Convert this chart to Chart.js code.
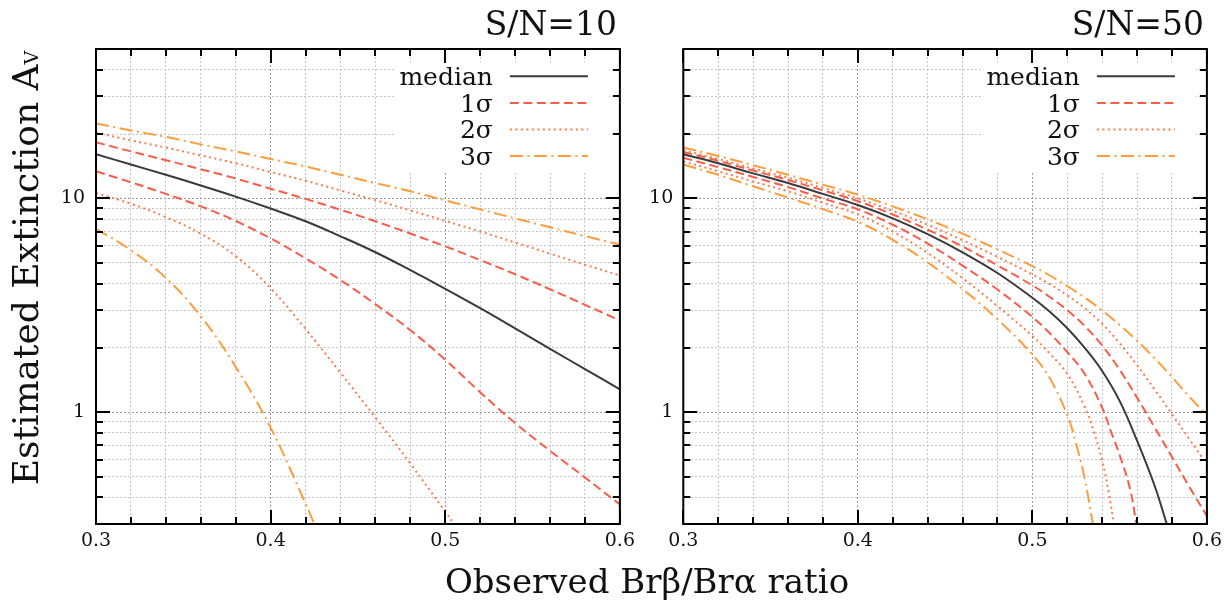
<!DOCTYPE html>
<html lang="en">
<head>
<meta charset="UTF-8">
<title>Estimated extinction vs Brβ/Brα ratio</title>
<script src="https://cdn.jsdelivr.net/npm/chart.js@4.4.0/dist/chart.umd.min.js"></script>
<style>
  body { margin: 0; background: #fff; }
  .wrap { position: relative; width: 1228px; height: 603px; font-family: 'DejaVu Serif', serif; color: #111; }
  .panel { position: absolute; top: 0; height: 603px; }
  #p10 { left: 0; width: 641px; }
  #p50 { left: 640px; width: 588px; }
  .xtitle { position: absolute; left: 647px; top: 564px; transform: translateX(-50%); font-size: 34px; white-space: nowrap; line-height: 1; }
</style>
</head>
<body>
<div class="wrap">
  <div class="panel" id="p10"><canvas id="c10"></canvas></div>
  <div class="panel" id="p50"><canvas id="c50"></canvas></div>
  <div class="xtitle">Observed Brβ/Brα ratio</div>
</div>
<script>
// axes
const xGridVals = [0.30, 0.32, 0.34, 0.36, 0.38, 0.40, 0.42, 0.44, 0.46, 0.48, 0.50, 0.52, 0.54, 0.56, 0.58, 0.60];
const xTickLabels = ['0.3', '0.4', '0.5', '0.6'];
const yGridVals = [0.3, 0.4, 0.5, 0.6, 0.7, 0.8, 0.9, 1, 2, 3, 4, 5, 6, 7, 8, 9, 10, 20, 30, 40, 50];
const yTickLabels = ['1', '10'];
const legendLabels = ['median', '1σ', '2σ', '3σ'];

// S/N = 10
const xs = [0.30, 0.32, 0.34, 0.36, 0.38, 0.40, 0.42, 0.44, 0.46, 0.48, 0.50, 0.52, 0.54, 0.56, 0.58, 0.60];
const sn10Median = [16.1, 14.4, 12.9, 11.5, 10.2, 8.97, 7.82, 6.65, 5.6, 4.62, 3.78, 3.07, 2.47, 1.98, 1.59, 1.28];
const sn10Up1 = [18.3, 16.6, 15.1, 13.7, 12.4, 11.1, 9.95, 8.85, 7.82, 6.85, 5.97, 5.15, 4.42, 3.76, 3.18, 2.69];
const sn10Up2 = [20.3, 18.7, 17.3, 15.9, 14.6, 13.3, 12.1, 10.9, 9.82, 8.79, 7.85, 7.0, 6.22, 5.52, 4.90, 4.36];
const sn10Up3 = [22.4, 20.8, 19.4, 17.9, 16.6, 15.3, 14.1, 12.9, 11.8, 10.8, 9.79, 8.89, 8.07, 7.33, 6.67, 6.08];
const sn10Lo1 = [13.4, 11.9, 10.5, 9.18, 7.85, 6.5, 5.25, 4.15, 3.2, 2.42, 1.76, 1.24, 0.89, 0.66, 0.495, 0.37];
const sn10Lo2X = [0.30, 0.32, 0.34, 0.36, 0.38, 0.40, 0.42, 0.44, 0.46, 0.48, 0.50, 0.505];
const sn10Lo2 = [10.6, 9.44, 8.18, 6.84, 5.37, 3.80, 2.45, 1.53, 0.944, 0.575, 0.343, 0.3];
const sn10Lo3X = [0.30, 0.32, 0.34, 0.36, 0.38, 0.40, 0.42, 0.425];
const sn10Lo3 = [7.21, 5.73, 4.25, 2.81, 1.63, 0.847, 0.374, 0.3];

// S/N = 50
const xsFine = [0.30, 0.32, 0.34, 0.36, 0.38, 0.40, 0.42, 0.44, 0.46, 0.48, 0.50, 0.51, 0.52, 0.53, 0.54, 0.55, 0.56, 0.57, 0.58, 0.59, 0.60];
const sn50Up1 = [16.5, 15.0, 13.5, 12.2, 10.9, 9.71, 8.41, 7.14, 5.96, 4.86, 3.92, 3.46, 3.0, 2.53, 2.05, 1.58, 1.17, 0.851, 0.617, 0.447, 0.327];
const sn50Up2 = [16.8, 15.3, 13.8, 12.5, 11.2, 10.0, 8.75, 7.53, 6.38, 5.33, 4.41, 3.97, 3.52, 3.07, 2.59, 2.10, 1.66, 1.28, 0.979, 0.748, 0.569];
const sn50Up3 = [17.3, 15.8, 14.3, 12.9, 11.6, 10.4, 9.18, 7.98, 6.84, 5.78, 4.82, 4.36, 3.89, 3.44, 2.99, 2.56, 2.16, 1.79, 1.46, 1.18, 0.97];
const sn50MedianX = [0.30, 0.32, 0.34, 0.36, 0.38, 0.40, 0.42, 0.44, 0.46, 0.48, 0.50, 0.51, 0.52, 0.53, 0.54, 0.55, 0.56, 0.57, 0.577];
const sn50Median = [16.1, 14.6, 13.1, 11.8, 10.5, 9.31, 8.07, 6.81, 5.60, 4.48, 3.43, 2.95, 2.47, 2.0, 1.56, 1.13, 0.736, 0.454, 0.3];
const sn50Lo1X = [0.30, 0.32, 0.34, 0.36, 0.38, 0.40, 0.42, 0.44, 0.46, 0.48, 0.50, 0.51, 0.52, 0.53, 0.54, 0.545, 0.55, 0.556, 0.5596];
const sn50Lo1 = [15.5, 14.0, 12.6, 11.3, 10.0, 8.89, 7.53, 6.15, 4.85, 3.75, 2.79, 2.34, 1.91, 1.51, 1.05, 0.813, 0.631, 0.437, 0.3];
const sn50Lo2X = [0.30, 0.32, 0.34, 0.36, 0.38, 0.40, 0.42, 0.44, 0.46, 0.48, 0.50, 0.51, 0.52, 0.53, 0.535, 0.54, 0.5438, 0.5467];
const sn50Lo2 = [14.9, 13.4, 12.0, 10.8, 9.55, 8.41, 7.0, 5.56, 4.24, 3.14, 2.27, 1.88, 1.51, 1.06, 0.822, 0.594, 0.42, 0.3];
const sn50Lo3X = [0.30, 0.32, 0.34, 0.36, 0.38, 0.40, 0.42, 0.44, 0.46, 0.48, 0.50, 0.51, 0.52, 0.525, 0.53, 0.5347];
const sn50Lo3 = [14.4, 12.9, 11.4, 10.1, 8.91, 7.78, 6.40, 5.02, 3.77, 2.72, 1.86, 1.44, 0.97, 0.716, 0.489, 0.3];

const FONT = "'DejaVu Serif', serif";
const styles = [
  { borderColor: '#3a3a3a', borderDash: [] },
  { borderColor: '#f95c48', borderDash: [9, 4.5] },
  { borderColor: '#fb7c4b', borderDash: [2, 3.5] },
  { borderColor: '#fd9d3c', borderDash: [13, 4.5, 2, 4.5] }
];

function pts(xv, yv) {
  return xv.map((x, i) => ({ x: x, y: yv[i] }));
}

function line(level, data) {
  return Object.assign({
    label: legendLabels[level],
    data: data,
    borderWidth: 2,
    pointRadius: 0,
    fill: false,
    tension: 0.4
  }, styles[level]);
}

function isXMajor(v) { return xTickLabels.includes((+v).toFixed(1)) && Math.abs(v * 10 - Math.round(v * 10)) < 1e-6; }
function isYMajor(v) { return yTickLabels.includes(String(v)); }

// frame, inward ticks, legend box, legend, titles
const deco = {
  id: 'deco',
  beforeDatasetsDraw(chart) {
    const { ctx, chartArea: a } = chart;
    ctx.save();
    ctx.fillStyle = '#fff';
    ctx.fillRect(a.right - 226, a.top + 13, 215, 110);
    ctx.restore();
  },
  afterDraw(chart, args, opts) {
    const { ctx, chartArea: a, scales } = chart;
    ctx.save();
    ctx.strokeStyle = '#000';
    ctx.lineWidth = 2;
    ctx.beginPath();
    xGridVals.forEach(v => {
      const px = Math.round(scales.x.getPixelForValue(v));
      const len = isXMajor(v) ? 14 : 7;
      ctx.moveTo(px, a.bottom); ctx.lineTo(px, a.bottom - len);
      ctx.moveTo(px, a.top); ctx.lineTo(px, a.top + len);
    });
    yGridVals.forEach(v => {
      const py = Math.round(scales.y.getPixelForValue(v));
      const len = isYMajor(v) ? 14 : 7;
      ctx.moveTo(a.left, py); ctx.lineTo(a.left + len, py);
      ctx.moveTo(a.right, py); ctx.lineTo(a.right - len, py);
    });
    ctx.stroke();
    ctx.strokeRect(a.left, a.top, a.right - a.left, a.bottom - a.top);

    // legend
    ctx.font = '25px ' + FONT;
    ctx.fillStyle = '#111';
    ctx.textAlign = 'right';
    ctx.textBaseline = 'alphabetic';
    const seen = [];
    chart.data.datasets.forEach(ds => {
      if (seen.includes(ds.label)) return;
      seen.push(ds.label);
      const k = legendLabels.indexOf(ds.label);
      const ly = a.top + 27.3 + k * 26.6;
      ctx.fillText(ds.label, a.right - 127, ly + 8.8);
      ctx.save();
      ctx.strokeStyle = ds.borderColor;
      ctx.lineWidth = 2;
      ctx.setLineDash(ds.borderDash);
      ctx.beginPath();
      ctx.moveTo(a.right - 110, ly);
      ctx.lineTo(a.right - 32, ly);
      ctx.stroke();
      ctx.restore();
    });

    // panel title
    ctx.font = '33px ' + FONT;
    ctx.textAlign = 'right';
    ctx.fillText(opts.title, a.right - 3, 35);

    // y axis title with small V
    if (opts.yTitle) {
      const main = 'Estimated Extinction A';
      ctx.save();
      ctx.translate(38, 268);
      ctx.rotate(-Math.PI / 2);
      ctx.font = '36px ' + FONT;
      const w1 = ctx.measureText(main).width;
      ctx.font = '19px ' + FONT;
      const w2 = ctx.measureText('V').width;
      const x0 = -(w1 + w2) / 2;
      ctx.textAlign = 'left';
      ctx.font = '36px ' + FONT;
      ctx.fillText(main, x0, 0);
      ctx.font = '19px ' + FONT;
      ctx.fillText('V', x0 + w1, 0);
      ctx.restore();
    }
    ctx.restore();
  }
};

function makeOptions(yWidth, padRight, yPad, title, yTitle) {
  const tickFont = { family: FONT, size: 19 };
  return {
    responsive: true,
    maintainAspectRatio: false,
    animation: false,
    layout: { padding: { top: 49, right: padRight, bottom: 0, left: 0 } },
    plugins: {
      legend: { display: false },
      tooltip: { enabled: false },
      deco: { title: title, yTitle: yTitle }
    },
    scales: {
      x: {
        type: 'linear',
        min: 0.3,
        max: 0.6,
        afterBuildTicks: s => { s.ticks = xGridVals.map(v => ({ value: v })); },
        afterFit: s => { s.height = 79; },
        grid: {
          drawTicks: false,
          lineWidth: 1,
          color: c => (c.tick && isXMajor(c.tick.value)) ? '#9a9a9a' : '#c6c6c6'
        },
        border: { display: false, dash: [2, 2] },
        ticks: {
          autoSkip: false,
          maxRotation: 0,
          padding: 6,
          color: '#111',
          font: tickFont,
          callback: v => isXMajor(v) ? (+v).toFixed(1) : ''
        }
      },
      y: {
        type: 'logarithmic',
        min: 0.3,
        max: 50,
        afterBuildTicks: s => { s.ticks = yGridVals.map(v => ({ value: v })); },
        afterFit: s => { s.width = yWidth; },
        grid: {
          drawTicks: false,
          lineWidth: 1,
          color: c => (c.tick && isYMajor(c.tick.value)) ? '#9a9a9a' : '#c6c6c6'
        },
        border: { display: false, dash: [2, 2] },
        ticks: {
          autoSkip: false,
          padding: yPad,
          color: '#111',
          font: tickFont,
          callback: v => isYMajor(v) ? String(v) : ''
        }
      }
    }
  };
}

new Chart(document.getElementById('c10'), {
  type: 'line',
  data: {
    datasets: [
      line(3, pts(xs, sn10Up3)),
      line(2, pts(xs, sn10Up2)),
      line(1, pts(xs, sn10Up1)),
      line(0, pts(xs, sn10Median)),
      line(1, pts(xs, sn10Lo1)),
      line(2, pts(sn10Lo2X, sn10Lo2)),
      line(3, pts(sn10Lo3X, sn10Lo3))
    ].reverse()
  },
  options: makeOptions(96, 20, 11, 'S/N=10', true),
  plugins: [deco]
});

new Chart(document.getElementById('c50'), {
  type: 'line',
  data: {
    datasets: [
      line(3, pts(xsFine, sn50Up3)),
      line(2, pts(xsFine, sn50Up2)),
      line(1, pts(xsFine, sn50Up1)),
      line(0, pts(sn50MedianX, sn50Median)),
      line(1, pts(sn50Lo1X, sn50Lo1)),
      line(2, pts(sn50Lo2X, sn50Lo2)),
      line(3, pts(sn50Lo3X, sn50Lo3))
    ].reverse()
  },
  options: makeOptions(43.3, 19.7, 10, 'S/N=50', false),
  plugins: [deco]
});
</script>
</body>
</html>
